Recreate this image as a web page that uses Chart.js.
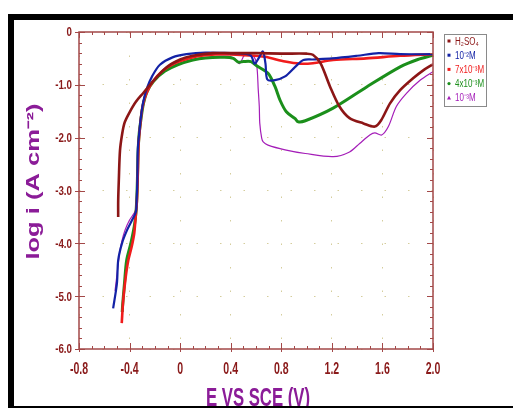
<!DOCTYPE html>
<html>
<head>
<meta charset="utf-8">
<script src="https://cdn.jsdelivr.net/npm/chart.js@4.4.0/dist/chart.umd.min.js"></script>
<style>
  html, body { margin: 0; padding: 0; background: #fff; }
  #wrap { position: relative; width: 513px; height: 408px; overflow: hidden; }
  #chart { position: absolute; left: 0; top: 0; }
  .bar { position: absolute; background: #000; }
</style>
</head>
<body>
<div id="wrap">
  <canvas id="chart" width="513" height="408"></canvas>
  <div class="bar" style="left:8px;top:14px;width:505px;height:6px"></div>
  <div class="bar" style="left:8px;top:14px;width:6px;height:394px"></div>
  <div class="bar" style="left:8px;top:406px;width:505px;height:2px"></div>
</div>
<script>
// series: [E (V vs SCE), log i]
const seriesLabels = ["H₂SO₄", "10⁻²M", "7x10⁻³M", "4x10⁻³M", "10⁻³M"];

const acid = [
  [-0.49, -3.5], [-0.49, -3.2], [-0.485, -2.8], [-0.476, -2.25], [-0.46, -1.95],
  [-0.44, -1.72], [-0.40, -1.52], [-0.35, -1.32], [-0.29, -1.15], [-0.21, -0.92],
  [-0.11, -0.67], [0.0, -0.52], [0.1, -0.45], [0.26, -0.40], [0.4, -0.40],
  [0.6, -0.40], [0.8, -0.41], [1.0, -0.41], [1.05, -0.43], [1.11, -0.59],
  [1.185, -1.03], [1.26, -1.41], [1.34, -1.63], [1.45, -1.73], [1.54, -1.79],
  [1.59, -1.67], [1.66, -1.35], [1.74, -1.10], [1.84, -0.88], [1.92, -0.73], [2.0, -0.61]
];

const conc1e2 = [
  [-0.53, -5.23], [-0.50, -4.76], [-0.49, -4.32], [-0.46, -4.0], [-0.42, -3.75],
  [-0.38, -3.56], [-0.35, -3.40], [-0.344, -3.18], [-0.339, -2.86], [-0.337, -2.55],
  [-0.335, -2.23], [-0.325, -1.95], [-0.31, -1.60], [-0.29, -1.30], [-0.26, -1.05],
  [-0.22, -0.83], [-0.16, -0.62], [-0.06, -0.48], [0.05, -0.42], [0.2, -0.39],
  [0.4, -0.40], [0.5, -0.41], [0.56, -0.45], [0.59, -0.60], [0.62, -0.50],
  [0.655, -0.37], [0.675, -0.60], [0.69, -0.90], [0.75, -0.91], [0.83, -0.84],
  [0.91, -0.66], [0.975, -0.53], [1.05, -0.52], [1.2, -0.50], [1.4, -0.45],
  [1.57, -0.40], [1.74, -0.42], [2.0, -0.42]
];

const conc7e3 = [
  [-0.462, -5.51], [-0.45, -5.07], [-0.43, -4.63], [-0.41, -4.32], [-0.383, -4.06],
  [-0.363, -3.81], [-0.352, -3.50], [-0.342, -3.2], [-0.337, -2.86], [-0.333, -2.5],
  [-0.328, -2.1], [-0.315, -1.75], [-0.30, -1.45], [-0.27, -1.18], [-0.22, -0.95],
  [-0.14, -0.74], [-0.04, -0.59], [0.08, -0.49], [0.2, -0.44], [0.35, -0.42],
  [0.51, -0.44], [0.67, -0.47], [0.83, -0.56], [0.95, -0.60], [1.05, -0.59],
  [1.21, -0.53], [1.47, -0.50], [1.74, -0.45], [2.0, -0.42]
];

const conc4e3 = [
  [-0.458, -5.3], [-0.455, -5.17], [-0.44, -4.75], [-0.423, -4.32], [-0.39, -4.0],
  [-0.363, -3.68], [-0.35, -3.43], [-0.342, -3.1], [-0.337, -2.7], [-0.333, -2.3],
  [-0.325, -1.95], [-0.31, -1.65], [-0.29, -1.35], [-0.26, -1.12], [-0.21, -0.93],
  [-0.12, -0.74], [-0.02, -0.62], [0.1, -0.53], [0.2, -0.49], [0.35, -0.48],
  [0.42, -0.50], [0.46, -0.57], [0.50, -0.56], [0.56, -0.56], [0.605, -0.64],
  [0.695, -0.78], [0.75, -1.03], [0.79, -1.29], [0.84, -1.51], [0.91, -1.64],
  [0.934, -1.70], [0.99, -1.68], [1.21, -1.44], [1.475, -1.04], [1.74, -0.66],
  [1.88, -0.52], [2.0, -0.44]
];

const conc1e3 = [
  [-0.515, -4.9], [-0.50, -4.6], [-0.48, -4.2], [-0.46, -3.95], [-0.436, -3.75],
  [-0.40, -3.56], [-0.352, -3.37], [-0.342, -3.1], [-0.338, -2.8], [-0.335, -2.4],
  [-0.328, -2.0], [-0.315, -1.7], [-0.30, -1.42], [-0.275, -1.18], [-0.22, -0.95],
  [-0.13, -0.75], [-0.03, -0.62], [0.1, -0.52], [0.25, -0.47], [0.38, -0.46],
  [0.43, -0.50], [0.47, -0.60], [0.51, -0.44], [0.576, -0.45], [0.605, -0.62],
  [0.618, -1.10], [0.626, -1.41], [0.63, -1.73], [0.645, -2.01], [0.657, -2.08],
  [0.695, -2.14], [0.83, -2.23], [0.99, -2.30], [1.21, -2.36], [1.34, -2.27],
  [1.42, -2.11], [1.50, -1.95], [1.54, -1.91], [1.594, -1.95], [1.647, -1.79],
  [1.71, -1.41], [1.79, -1.16], [1.90, -0.91], [2.0, -0.75]
];

const xTickLabels = ["-0.8", "-0.4", "0", "0.4", "0.8", "1.2", "1.6", "2.0"];
const yTickLabels = ["-6.0", "-5.0", "-4.0", "-3.0", "-2.0", "-1.0", "0"];
const xTitle = "E VS SCE (V)";
const yTitle = "log i (A cm⁻²)";

const colors = ["#8c1616", "#1322a6", "#f01c1c", "#1b8f1b", "#a41db8"];
const widths = [2.6, 2.2, 2.6, 3, 1.2];
const markers = ["rect", "rect", "rect", "circle", "triangle"];
const axisColor = "#a34848";
const labelColor = "#8a1a1a";
const titleColor = "#8b1c98";
const sans = "'Liberation Sans', Arial, sans-serif";

const allSeries = [acid, conc1e2, conc7e3, conc4e3, conc1e3];

const datasets = allSeries.map((s, i) => ({
  label: seriesLabels[i],
  data: s.map(p => ({ x: p[0], y: p[1] })),
  showLine: true,
  borderColor: colors[i],
  backgroundColor: colors[i],
  borderWidth: widths[i],
  pointRadius: 0,
  tension: 0.3,
  pointStyle: markers[i]
}));

// the source figure's lettering is tall and squeezed, so text is drawn scaled
function squeezed(ctx, text, x, y, sx, align, rot) {
  ctx.save();
  ctx.translate(x, y);
  if (rot) ctx.rotate(rot);
  ctx.scale(sx, 1);
  ctx.textAlign = align;
  ctx.textBaseline = "alphabetic";
  ctx.fillText(text, 0, 0);
  ctx.restore();
}

// box, inward ticks, labels and the small boxed legend
const frame = {
  id: "frame",
  afterDraw(chart) {
    const { ctx, chartArea: a, scales: { x, y } } = chart;
    ctx.save();
    ctx.strokeStyle = axisColor;
    ctx.lineWidth = 1.5;
    ctx.strokeRect(a.left, a.top, a.right - a.left, a.bottom - a.top);
    ctx.lineWidth = 1;
    ctx.beginPath();
    for (let i = 0; i <= 28; i++) {
      const px = Math.round(x.getPixelForValue(-0.8 + i * 0.1)) + 0.5;
      const major = i % 4 === 0;
      ctx.moveTo(px, a.bottom + (major ? 3 : 0));
      ctx.lineTo(px, a.bottom - (major ? 6 : 3));
      ctx.moveTo(px, a.top);
      ctx.lineTo(px, a.top + (major ? 6 : 3));
    }
    for (let i = 0; i <= 30; i++) {
      const py = Math.round(y.getPixelForValue(-i * 0.2)) + 0.5;
      const major = i % 5 === 0;
      ctx.moveTo(a.left - (major ? 4 : 0), py);
      ctx.lineTo(a.left + (major ? 6 : 3), py);
      ctx.moveTo(a.right, py);
      ctx.lineTo(a.right - (major ? 6 : 3), py);
    }
    ctx.stroke();

    // tick labels
    ctx.fillStyle = labelColor;
    ctx.font = "bold 16px " + sans;
    x.ticks.forEach((t, i) => {
      squeezed(ctx, xTickLabels[i], x.getPixelForValue(t.value), a.bottom + 25, 0.66, "center");
    });
    ctx.font = "bold 12.5px " + sans;
    y.ticks.forEach((t, i) => {
      squeezed(ctx, yTickLabels[i], a.left - 7, y.getPixelForValue(t.value) + 4.4, 0.78, "right");
    });

    // axis titles
    ctx.fillStyle = titleColor;
    ctx.font = "bold 25px " + sans;
    squeezed(ctx, xTitle, (a.left + a.right) / 2 + 2, 406, 0.67, "center");
    ctx.font = "bold 18px " + sans;
    squeezed(ctx, yTitle, 38.5, 181.5, 1.42, "center", -Math.PI / 2);

    // legend
    const lx = 444, ly = 34, lw = 42, lh = 72;
    ctx.fillStyle = "#fff";
    ctx.fillRect(lx, ly, lw, lh);
    ctx.strokeStyle = "#8a8a8a";
    ctx.lineWidth = 1;
    ctx.strokeRect(lx + 0.5, ly + 0.5, lw, lh);
    ctx.font = "10px " + sans;
    chart.data.datasets.forEach((ds, i) => {
      const cy = ly + 7 + i * 14.2;
      ctx.fillStyle = ds.borderColor;
      if (ds.pointStyle === "circle") {
        ctx.beginPath(); ctx.arc(lx + 5, cy, 1.6, 0, Math.PI * 2); ctx.fill();
      } else if (ds.pointStyle === "triangle") {
        ctx.beginPath(); ctx.moveTo(lx + 5, cy - 2); ctx.lineTo(lx + 7, cy + 1.6); ctx.lineTo(lx + 3, cy + 1.6); ctx.fill();
      } else {
        ctx.fillRect(lx + 3.5, cy - 1.5, 3, 3);
      }
      squeezed(ctx, ds.label, lx + 11, cy + 3.5, 0.8, "left");
    });
    ctx.restore();
  }
};

new Chart(document.getElementById("chart"), {
  type: "scatter",
  data: { datasets },
  plugins: [frame],
  options: {
    responsive: false,
    animation: false,
    layout: { padding: { left: 0, top: 32, right: 80, bottom: 0 } },
    plugins: { legend: { display: false }, tooltip: { enabled: false } },
    scales: {
      x: {
        min: -0.8, max: 2.0,
        afterFit: s => { s.height = 59; },
        ticks: { stepSize: 0.4, display: false },
        grid: { color: "#d5cd9c", lineWidth: 1, drawTicks: false },
        border: { display: false, dash: [1.5, 22] }
      },
      y: {
        min: -6, max: 0,
        afterFit: s => { s.width = 79; },
        ticks: { stepSize: 1, display: false },
        grid: { color: "#d5cd9c", lineWidth: 1, drawTicks: false },
        border: { display: false, dash: [1.5, 22] }
      }
    }
  }
});
</script>
</body>
</html>
